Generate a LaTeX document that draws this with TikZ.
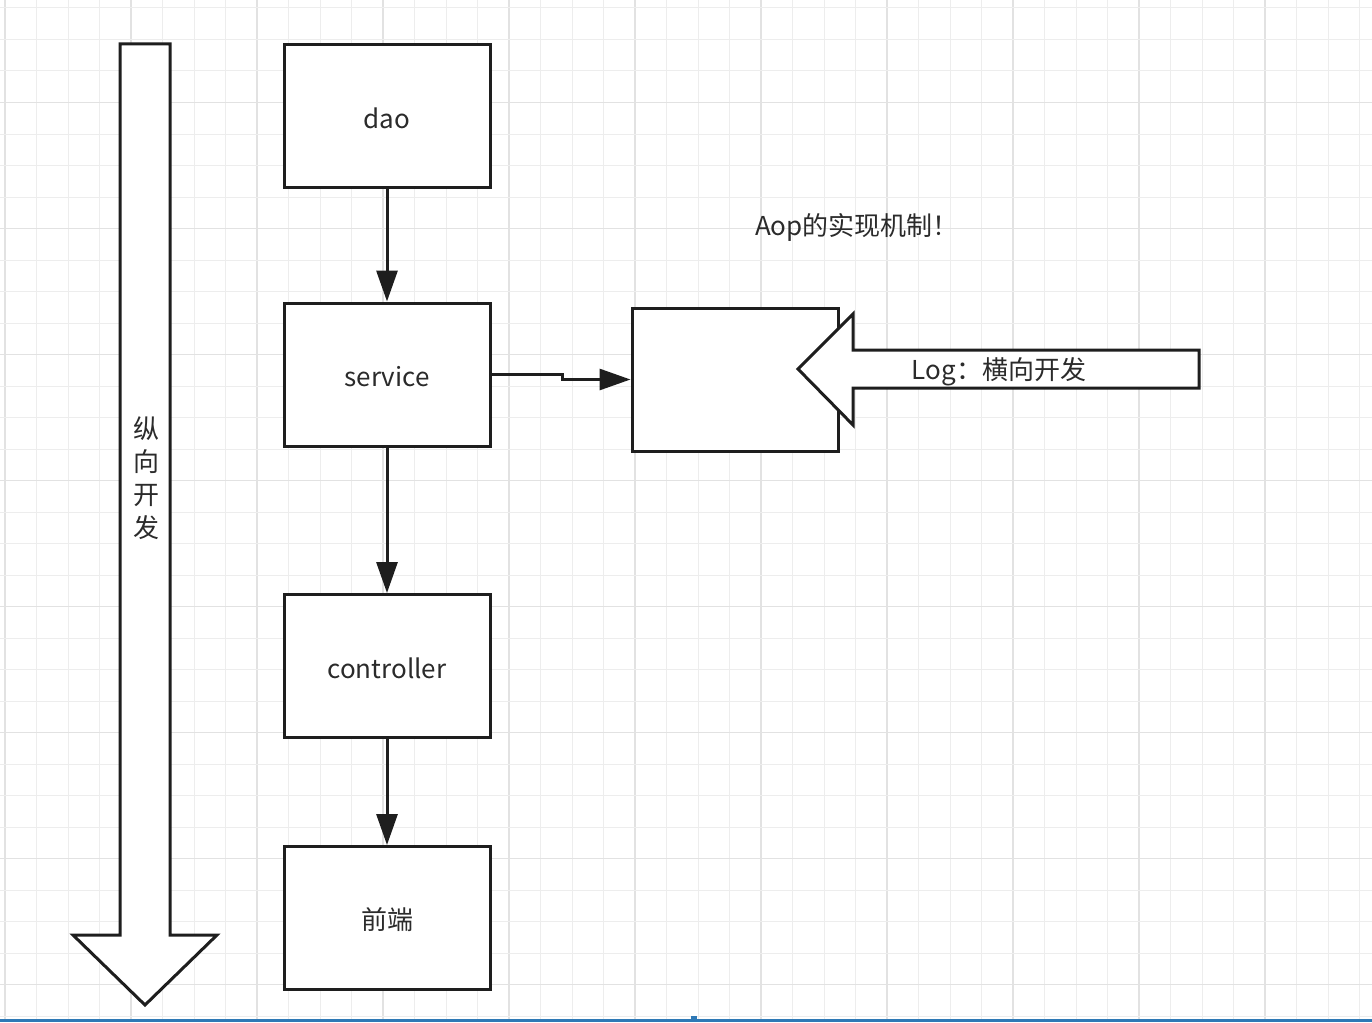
\documentclass[tikz,border=0pt]{standalone}
\usepackage{fontspec}
\setmainfont{Noto Sans CJK SC}
\usetikzlibrary{arrows.meta}
\definecolor{gridminor}{HTML}{EDEDED}
\definecolor{gridmajor}{HTML}{E2E2E2}
\definecolor{ink}{HTML}{1E1E1E}
\definecolor{txt}{HTML}{2B2B2B}
\definecolor{barblue}{HTML}{2E79B6}
\begin{document}
\begin{tikzpicture}[x=1pt,y=-1pt,
  box/.style={draw=ink, line width=3pt, fill=white, minimum width=206pt, minimum height=143pt, inner sep=0pt, text=txt, font=\fontsize{26}{30}\selectfont},
  flow/.style={draw=ink, line width=3pt, -{Triangle[length=31pt,width=21pt]}},
  shapearrow/.style={draw=ink, line width=3pt, fill=white, line join=miter},
  lbl/.style={text=txt, inner sep=0pt, font=\fontsize{26}{30}\selectfont}]
\useasboundingbox (0,0) rectangle (1372,1022);
\fill[white] (0,0) rectangle (1372,1022);
% grid
\foreach \k in {0,...,43} {
  \pgfmathsetmacro{\xx}{5+31.5*\k}
  \pgfmathtruncatemacro{\m}{mod(\k,4)}
  \ifnum\m=0
    \draw[gridmajor, line width=1.2pt] (\xx,0) -- (\xx,1022);
  \else
    \draw[gridminor, line width=1pt] (\xx,0) -- (\xx,1022);
  \fi
}
\foreach \k in {0,...,32} {
  \pgfmathsetmacro{\yy}{8+31.5*\k}
  \pgfmathtruncatemacro{\m}{mod(\k,4)}
  \ifnum\m=3
    \draw[gridmajor, line width=1.2pt] (0,\yy) -- (1372,\yy);
  \else
    \draw[gridminor, line width=1pt] (0,\yy) -- (1372,\yy);
  \fi
}
% big vertical arrow
\draw[shapearrow] (120,44) -- (170,44) -- (170,935) -- (217,935) -- (145,1005) -- (73,935) -- (120,935) -- cycle;
\node[lbl, align=center, font=\fontsize{26}{33}\selectfont] (vert) at (146,478) {纵\\向\\开\\发};
% boxes
\node[box] (dao) at (387,116) {};
\node[box] (service) at (387,374.5) {};
\node[box] (controller) at (387,666) {};
\node[box] (front) at (387,918) {};
\node[box] (aopbox) at (735,379.5) {};
\node[lbl] (daot) at (387,118) {dao};
\node[lbl] (servicet) at (387,377) {service};
\node[lbl] (controllert) at (387,668) {controller};
\node[lbl] (frontt) at (387,920) {前端};
% connectors
\draw[flow] (dao) -- (service);
\draw[flow] (service) -- (controller);
\draw[flow] (controller) -- (front);
\draw[flow] (service.east) -- ++(71,0) |- (aopbox.west);
% Log arrow
\draw[shapearrow] (1199,350) -- (853,350) -- (853,314) -- (798,369) -- (853,425) -- (853,388) -- (1199,388) -- cycle;
\node[lbl] (log) at (999,372) {Log：横向开发};
\node[lbl] (title) at (857,227) {Aop的实现机制！};
% bottom bar
\fill[barblue] (0,1018.5) rectangle (1372,1022);
\fill[barblue] (691,1015.5) rectangle (697,1019);
\end{tikzpicture}
\end{document}
